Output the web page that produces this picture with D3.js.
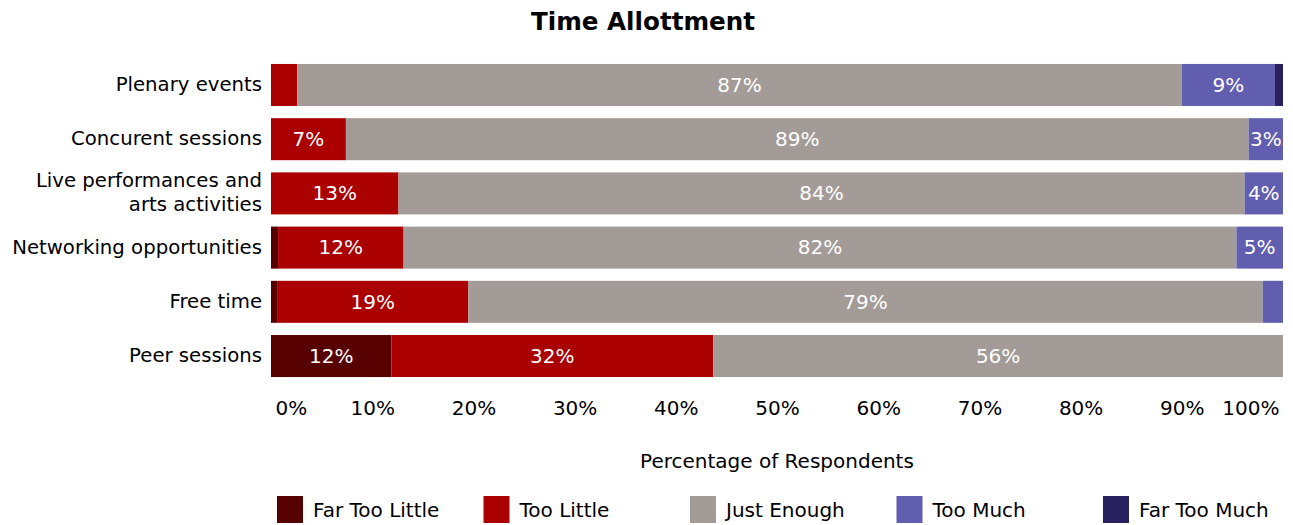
<!DOCTYPE html>
<html>
<head>
<meta charset="utf-8">
<script src="https://cdn.jsdelivr.net/npm/d3@7"></script>
<style>
  html, body { margin: 0; padding: 0; background: #fff; }
  svg { display: block; font-family: "DejaVu Sans", Verdana, sans-serif; }
</style>
</head>
<body>
<svg id="chart" width="1293" height="525"></svg>
<script>
// Survey items, top to bottom
const categories = [
  ["Plenary events"],
  ["Concurent sessions"],
  ["Live performances and", "arts activities"],
  ["Networking opportunities"],
  ["Free time"],
  ["Peer sessions"]
];
const responseLevels = ["Far Too Little", "Too Little", "Just Enough", "Too Much", "Far Too Much"];
const levelColors = ["#560000", "#ab0000", "#a39b98", "#615daf", "#27215f"];

// Percentage of respondents per level, one array per level (same order as categories)
const farTooLittle = [0.0, 0.0, 0.0, 0.7, 0.6, 11.9];
const tooLittle    = [2.6, 7.4, 12.6, 12.4, 18.9, 31.8];
const justEnough   = [87.4, 89.2, 83.6, 82.3, 78.5, 56.3];
const tooMuch      = [9.2, 3.4, 3.8, 4.6, 2.0, 0.0];
const farTooMuch   = [0.8, 0.0, 0.0, 0.0, 0.0, 0.0];

const tickValues = [0, 10, 20, 30, 40, 50, 60, 70, 80, 90, 100];
const chartTitle = "Time Allottment";
const axisTitle = "Percentage of Respondents";

const series = [farTooLittle, tooLittle, justEnough, tooMuch, farTooMuch];
const rows = categories.map((c, i) => {
  const r = { key: c.join(" "), lines: c };
  responseLevels.forEach((lv, j) => { r[lv] = series[j][i]; });
  return r;
});

const svg = d3.select("#chart");
const margin = { left: 271, right: 10, top: 58, bottom: 142 };
const W = 1293, H = 525;

const x = d3.scaleLinear().domain([0, 100]).range([margin.left, W - margin.right]);
const y = d3.scaleBand().domain(rows.map(r => r.key))
  .range([margin.top, H - margin.bottom]).paddingInner(0.225).paddingOuter(0.11);

const stacked = d3.stack().keys(responseLevels)(rows);

// Title
svg.append("text")
  .attr("x", 643).attr("y", 30)
  .attr("text-anchor", "middle")
  .attr("font-size", 24.6).attr("font-weight", "bold")
  .attr("fill", "#000")
  .text(chartTitle);

// Bars
const layer = svg.append("g").selectAll("g")
  .data(stacked).join("g")
  .attr("fill", (d, i) => levelColors[i]);

layer.selectAll("rect")
  .data(d => d.map(p => ({ p, key: d.key })))
  .join("rect")
  .attr("x", d => x(d.p[0]))
  .attr("y", d => y(d.p.data.key))
  .attr("width", d => x(d.p[1]) - x(d.p[0]))
  .attr("height", y.bandwidth());

// Value labels inside segments
layer.selectAll("text")
  .data(d => d.map(p => ({ p, v: p[1] - p[0] })).filter(d => d.v >= 3))
  .join("text")
  .attr("x", d => (x(d.p[0]) + x(d.p[1])) / 2)
  .attr("y", d => y(d.p.data.key) + y.bandwidth() / 2)
  .attr("dy", "0.34em")
  .attr("text-anchor", "middle")
  .attr("font-size", 20)
  .attr("fill", "#fff")
  .text(d => Math.round(d.v) + "%");

// Category labels
const catG = svg.append("g");
rows.forEach(r => {
  const cy = y(r.key) + y.bandwidth() / 2;
  const n = r.lines.length;
  const t = catG.append("text")
    .attr("x", 262)
    .attr("text-anchor", "end")
    .attr("font-size", 19.7)
    .attr("fill", "#000");
  r.lines.forEach((ln, k) => {
    t.append("tspan")
      .attr("x", 262)
      .attr("y", cy + (k - (n - 1) / 2) * 24)
      .attr("dy", "0.3em")
      .text(ln);
  });
});

// X axis tick labels
const axis = d3.axisBottom(x).tickValues(tickValues).tickSize(0).tickFormat(d => d + "%");
const axG = svg.append("g")
  .attr("transform", `translate(0, ${H - margin.bottom + 15})`)
  .call(axis);
axG.select(".domain").remove();
axG.selectAll("text")
  .attr("font-size", 20)
  .attr("font-family", "DejaVu Sans, Verdana, sans-serif")
  .attr("fill", "#000")
  .attr("text-anchor", d => d === 0 ? "start" : d === 100 ? "end" : "middle")
  .attr("dx", d => d === 0 ? 4 : d === 100 ? -4 : 0);

// Axis title
svg.append("text")
  .attr("x", (x(0) + x(100)) / 2).attr("y", 468)
  .attr("text-anchor", "middle")
  .attr("font-size", 20)
  .attr("fill", "#000")
  .text(axisTitle);

// Legend
const legend = svg.append("g").attr("transform", "translate(277, 496)");
const item = legend.selectAll("g").data(responseLevels).join("g")
  .attr("transform", (d, i) => `translate(${i * 206.5}, 0)`);
item.append("rect").attr("width", 26).attr("height", 27)
  .attr("fill", (d, i) => levelColors[i]);
item.append("text").attr("x", 36).attr("y", 14).attr("dy", "0.36em")
  .attr("font-size", 20).attr("fill", "#000").text(d => d);
</script>
</body>
</html>
